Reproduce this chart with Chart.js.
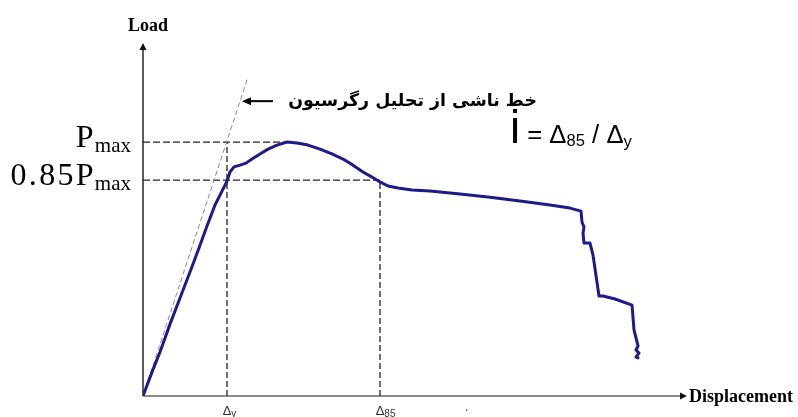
<!DOCTYPE html>
<html>
<head>
<meta charset="utf-8">
<script src="https://cdn.jsdelivr.net/npm/chart.js@4"></script>
<style>
  html, body { margin: 0; padding: 0; background: #fff; }
  #wrap { width: 798px; height: 417px; position: relative; }
</style>
</head>
<body>
<div id="wrap"><canvas id="loadChart"></canvas></div>
<script>
// load-displacement curve (x: displacement, y: load as % of Pmax)
const curveX = [0, 1.8, 3.4, 5.4, 7.4, 9.4, 11.2, 12.8, 14.4, 15.8, 16.8, 17.4, 18.2, 19.4, 20.6, 21.8, 23.4, 25, 26.8, 28.8,
  30.8, 33, 35.4, 37.8, 40, 42, 44, 45.8, 47.4, 49, 51, 53.8, 57.4, 63.4, 69.4, 75.4, 81.4, 85.4, 87.6,
  87.8, 88.2, 88, 88.2, 89.4, 90, 91.2, 92, 94.4, 97.8, 98.2, 99, 98.6, 99.2, 98.6, 99];
const curveY = [0, 9.4, 17.3, 28.3, 38.6, 48.8, 58.3, 66.9, 75.2, 80.7, 84.6, 88.2, 90.2, 90.9, 91.7, 93.3, 95.3, 97.2, 98.8, 100,
  99.6, 98.8, 97.2, 95.3, 93.3, 90.9, 88.2, 86.2, 84.3, 82.7, 81.9, 81.1, 80.7, 79.5, 78.3, 76.8, 75.2, 74.0, 72.8,
  68.5, 66.5, 64.2, 60.2, 60.2, 55.5, 39.4, 39.4, 38.2, 35.8, 26.0, 19.7, 18.1, 16.9, 15.4, 15];

// regression line
const regressionX = [0, 21];
const regressionY = [0, 125.6];

// reference levels
const loadLevels = [100, 85];          // Pmax, 0.85 Pmax
const loadLevelEnds = [28.8, 47.4];    // where the horizontal dashes stop
const loadLabelMain = ['P', '0.85P'];
const loadLabelSub = ['max', 'max'];
const dispMarks = [16.8, 47.4];        // Δy, Δ85
const dispMarkTops = [100, 85];
const dispMarkSubs = ['y', '85'];

const xMax = 108.8, yMax = 139;

const pts = (xs, ys) => xs.map((x, i) => ({ x: x, y: ys[i] }));

const refSets = [];
loadLevels.forEach((lv, i) => {
  refSets.push({
    data: [{ x: 0, y: lv }, { x: loadLevelEnds[i], y: lv }],
    borderColor: '#222', borderWidth: 1.3, borderDash: [7, 3], pointRadius: 0, showLine: true, order: 3
  });
});
dispMarks.forEach((dx, i) => {
  refSets.push({
    data: [{ x: dx, y: 0 }, { x: dx, y: dispMarkTops[i] }],
    borderColor: '#222', borderWidth: 1.3, borderDash: [6, 3], pointRadius: 0, showLine: true, order: 3
  });
});

function drawArrowHead(ctx, x, y, dir, len, half) {
  ctx.beginPath();
  if (dir === 'up') { ctx.moveTo(x, y); ctx.lineTo(x - half, y + len); ctx.lineTo(x + half, y + len); }
  if (dir === 'right') { ctx.moveTo(x, y); ctx.lineTo(x - len, y - half); ctx.lineTo(x - len, y + half); }
  if (dir === 'left') { ctx.moveTo(x, y); ctx.lineTo(x + len, y - half); ctx.lineTo(x + len, y + half); }
  ctx.closePath();
  ctx.fill();
}

const decorations = {
  id: 'decorations',
  beforeDatasetsDraw(chart) {
    const ctx = chart.ctx, a = chart.chartArea;
    ctx.save();
    // axes
    ctx.strokeStyle = '#333';
    ctx.fillStyle = '#111';
    ctx.lineWidth = 1.6;
    ctx.beginPath();
    ctx.moveTo(a.left, a.bottom); ctx.lineTo(a.left, a.top + 5);
    ctx.stroke();
    drawArrowHead(ctx, a.left, a.top, 'up', 7, 3.5);
    ctx.strokeStyle = '#666';
    ctx.beginPath();
    ctx.moveTo(a.left, a.bottom); ctx.lineTo(a.right - 6, a.bottom);
    ctx.stroke();
    drawArrowHead(ctx, a.right, a.bottom, 'right', 7, 3.5);
    ctx.restore();
  },
  afterDatasetsDraw(chart) {
    const ctx = chart.ctx, a = chart.chartArea;
    const xs = chart.scales.x, ys = chart.scales.y;
    ctx.save();
    ctx.fillStyle = '#000';
    ctx.textBaseline = 'alphabetic';

    // axis titles
    ctx.font = 'bold 18px "Liberation Serif"';
    ctx.textAlign = 'center';
    ctx.fillText('Load', a.left + 5, 31);
    ctx.textAlign = 'left';
    ctx.fillText('Displacement', a.right + 2, a.bottom + 6);

    // Pmax labels on the left
    loadLevels.forEach((lv, i) => {
      const py = ys.getPixelForValue(lv);
      ctx.font = '32px "Liberation Serif"';
      ctx.letterSpacing = '2.3px';
      const wMain = ctx.measureText(loadLabelMain[i]).width;
      ctx.font = '21px "Liberation Serif"';
      ctx.letterSpacing = '0px';
      const wSub = ctx.measureText(loadLabelSub[i]).width;
      const x0 = a.left - 11 - wMain - wSub;
      ctx.font = '32px "Liberation Serif"';
      ctx.letterSpacing = '2.3px';
      ctx.fillText(loadLabelMain[i], x0, py + 5);
      ctx.font = '21px "Liberation Serif"';
      ctx.letterSpacing = '0px';
      ctx.fillText(loadLabelSub[i], x0 + wMain - 1, py + 10);
    });

    // Δ labels below the axis
    ctx.fillStyle = '#333';
    dispMarks.forEach((dx, i) => {
      const px = xs.getPixelForValue(dx);
      ctx.font = '13px "Liberation Sans"';
      ctx.textAlign = 'center';
      ctx.fillText('Δ', px, a.bottom + 19);
      const w = ctx.measureText('Δ').width;
      ctx.font = '10px "Liberation Sans"';
      ctx.textAlign = 'left';
      ctx.fillText(dispMarkSubs[i], px + w / 2, a.bottom + 21);
    });
    ctx.font = '12px "Liberation Sans"';
    ctx.fillText('.', xs.getPixelForValue(64.4), a.bottom + 15);

    // regression note with arrow
    ctx.fillStyle = '#000';
    ctx.strokeStyle = '#000';
    ctx.lineWidth = 2;
    const ay = ys.getPixelForValue(116.1);
    const tipX = xs.getPixelForValue(19.8);
    ctx.beginPath();
    ctx.moveTo(tipX + 6, ay); ctx.lineTo(tipX + 31, ay);
    ctx.stroke();
    drawArrowHead(ctx, tipX, ay, 'left', 9, 4);
    const note = 'خط ناشی از تحلیل رگرسیون';
    ctx.font = 'bold 16px "DejaVu Sans"';
    let nw = ctx.measureText(note).width;
    const nSize = 16 * 249 / nw;
    ctx.font = 'bold ' + nSize.toFixed(1) + 'px "DejaVu Sans"';
    ctx.direction = 'rtl';
    ctx.textAlign = 'right';
    ctx.fillText(note, tipX + 295, ay + 5);
    ctx.direction = 'ltr';

    // ductility formula
    ctx.textAlign = 'left';
    const parts = [
      ['i', 30, 0], [' = Δ', 17, 0], ['85', 11, 3], [' / Δ', 17, 0], ['y', 11, 4]
    ];
    let total = 0;
    parts.forEach(p => { ctx.font = p[1] + 'px "Liberation Sans"'; total += ctx.measureText(p[0]).width; });
    const k = 122 / total;
    let fx = 510;
    const fy = 143;
    parts.forEach(p => {
      ctx.font = (p[1] * k).toFixed(1) + 'px "Liberation Sans"';
      ctx.fillText(p[0], fx, fy + p[2]);
      fx += ctx.measureText(p[0]).width;
    });
    ctx.restore();
  }
};

new Chart(document.getElementById('loadChart'), {
  type: 'scatter',
  data: {
    datasets: [
      {
        data: pts(curveX, curveY),
        borderColor: '#1b1b8c', borderWidth: 3, pointRadius: 0, showLine: true, tension: 0, order: 1,
        borderJoinStyle: 'round', borderCapStyle: 'round'
      },
      {
        data: pts(regressionX, regressionY),
        borderColor: '#8a8a8a', borderWidth: 1, borderDash: [5, 3], pointRadius: 0, showLine: true, order: 2
      }
    ].concat(refSets)
  },
  options: {
    responsive: true,
    maintainAspectRatio: false,
    animation: false,
    layout: { padding: { left: 143, right: 111, top: 43, bottom: 21 } },
    plugins: { legend: { display: false }, tooltip: { enabled: false } },
    scales: {
      x: { type: 'linear', min: 0, max: xMax, display: false },
      y: { type: 'linear', min: 0, max: yMax, display: false }
    }
  },
  plugins: [decorations]
});
</script>
</body>
</html>
